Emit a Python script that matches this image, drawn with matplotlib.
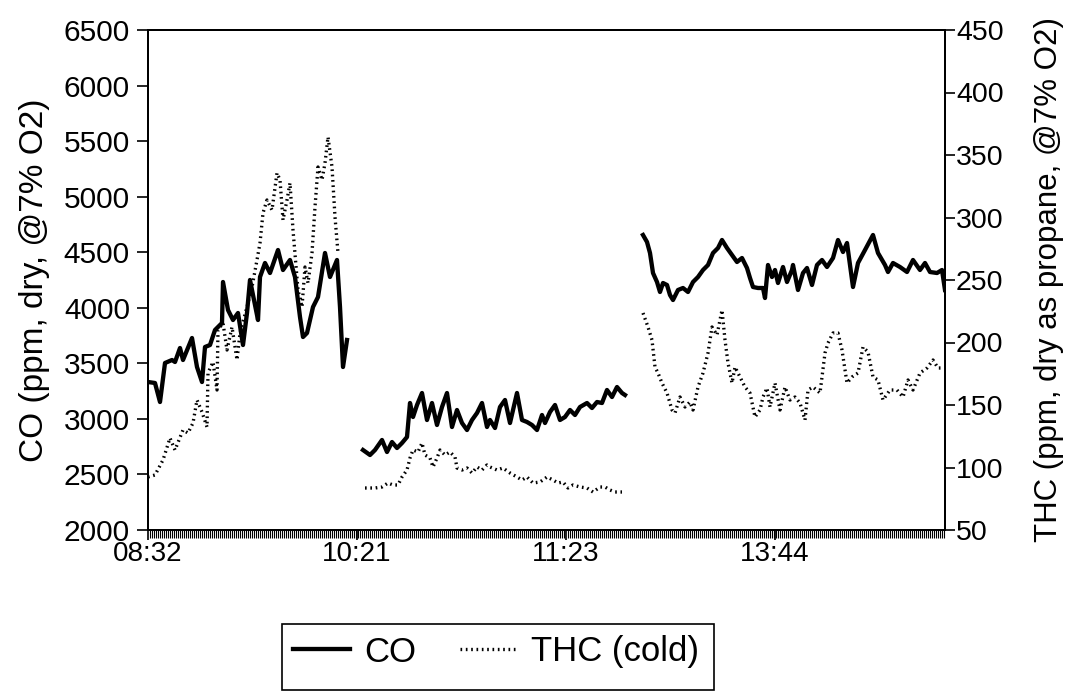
import matplotlib
matplotlib.use("Agg")
import matplotlib.pyplot as plt
from matplotlib.patches import Rectangle
from matplotlib.lines import Line2D
from matplotlib.ticker import MultipleLocator

plt.rcParams['font.family'] = ['Liberation Sans', 'DejaVu Sans']

# x = sample index; tick labels every 209 samples
tick_pos = [0, 209, 418, 627]
tick_labels = ["08:32", "10:21", "11:23", "13:44"]

# ---- CO (left axis, ppm) ----
co1_x = [0, 7, 12, 17, 24, 27, 32, 35, 44, 49, 54, 57, 62, 67, 74, 75, 80, 85, 90, 95,
         99, 102, 107, 110, 112, 117, 122, 130, 135, 142, 147, 152, 155, 159, 165, 170,
         177, 182, 189, 192, 195, 199]
co1_y = [3332, 3323, 3152, 3503, 3530, 3512, 3638, 3530, 3728, 3467, 3332, 3647, 3665,
         3800, 3863, 4232, 3980, 3890, 3953, 3665, 3953, 4250, 4025, 3890, 4277, 4403,
         4313, 4520, 4340, 4430, 4277, 3917, 3737, 3773, 4007, 4097, 4493, 4277, 4430,
         4007, 3467, 3710]
co2_x = [215, 222, 227, 234, 239, 244, 249, 254, 259, 262, 265, 269, 274, 279, 284, 289,
         294, 299, 304, 309, 314, 319, 324, 329, 334, 339, 342, 347, 352, 357, 362, 369,
         374, 379, 384, 389, 394, 397, 402, 407, 412, 417, 422, 427, 432, 439, 444, 449,
         454, 459, 464, 469, 474, 477]
co2_y = [2720, 2675, 2720, 2810, 2702, 2792, 2738, 2783, 2837, 3143, 3017, 3125, 3233,
         2990, 3143, 2945, 3107, 3233, 2927, 3080, 2963, 2900, 2990, 3053, 3143, 2927,
         2990, 2918, 3107, 3170, 2963, 3233, 2990, 2972, 2945, 2900, 3035, 2963, 3062,
         3125, 2990, 3017, 3080, 3035, 3107, 3143, 3098, 3152, 3143, 3260, 3197, 3287,
         3233, 3215]
co3_x = [495, 499, 502, 505, 509, 512, 515, 519, 522, 525, 530, 535, 540, 545, 550, 555,
         560, 565, 570, 574, 579, 584, 589, 594, 599, 602, 605, 610, 615, 617, 620, 624,
         627, 630, 635, 639, 644, 645, 650, 655, 659, 664, 669, 674, 679, 685, 690, 695,
         699, 702, 705, 710, 717, 725, 730, 737, 740, 745, 752, 759, 765, 772, 777, 782,
         789, 794, 797]
co3_y = [4655, 4592, 4493, 4313, 4232, 4142, 4223, 4205, 4115, 4070, 4160, 4178, 4142,
         4232, 4277, 4340, 4385, 4493, 4538, 4610, 4538, 4475, 4412, 4448, 4358, 4268,
         4187, 4178, 4178, 4088, 4385, 4277, 4340, 4223, 4367, 4232, 4340, 4385, 4160,
         4313, 4358, 4205, 4385, 4430, 4367, 4448, 4610, 4502, 4583, 4385, 4187, 4403,
         4520, 4655, 4493, 4385, 4322, 4403, 4367, 4322, 4430, 4340, 4403, 4322, 4313,
         4340, 4160]

# ---- THC (right axis, ppm as propane) ----
thc1_x = [0, 7, 15, 22, 27, 35, 40, 45, 49, 54, 59, 60, 65, 69, 70, 75, 79, 84, 89, 92,
          99, 104, 109, 112, 115, 119, 124, 129, 132, 135, 139, 142, 145, 150, 154, 157,
          160, 164, 167, 170, 174, 177, 180, 184, 187, 190]
thc1_y = [92.4, 94, 106, 123.6, 114, 130, 127.6, 135.6, 154, 144.4, 132.4, 175.6, 184.4,
          162, 210, 215.6, 194, 212.4, 186, 207.6, 228.4, 244.4, 266, 279.6, 303.6, 314,
          306, 335.6, 330, 298, 314, 327.6, 290, 242, 228.4, 260.4, 247.6, 271.6, 308.4,
          340.4, 330, 343.6, 364.4, 340.4, 300.4, 271.6]
thc2_x = [217, 227, 234, 240, 245, 250, 254, 259, 262, 265, 270, 274, 277, 282, 285, 289,
          292, 297, 302, 307, 309, 314, 319, 324, 329, 334, 339, 342, 349, 355, 362, 369,
          374, 379, 385, 392, 399, 405, 410, 415, 420, 425, 432, 439, 445, 452, 457, 462,
          467, 474]
thc2_y = [83.6, 83.6, 84.4, 87.6, 86, 86, 92.4, 98, 107.6, 114, 112.4, 119.6, 110, 107.6,
          100.4, 107.6, 114, 110, 112.4, 108.4, 99.6, 98, 99.6, 95.6, 100.4, 98, 102,
          100.4, 98, 99.6, 95.6, 92.4, 90, 92.4, 87.6, 88.4, 92.4, 90, 87.6, 88.4, 83.6,
          86, 84.4, 83.6, 80.4, 84.4, 84.4, 82, 80.4, 80.4]
thc3_x = [495, 500, 504, 507, 510, 514, 519, 524, 527, 532, 537, 542, 545, 550, 555, 560,
          564, 569, 574, 577, 580, 584, 587, 592, 597, 602, 607, 612, 615, 619, 622, 627,
          632, 637, 642, 647, 652, 657, 660, 665, 672, 677, 680, 685, 690, 694, 699, 704,
          710, 715, 720, 725, 730, 735, 742, 749, 755, 760, 765, 772, 779, 785, 790, 795]
thc3_y = [223.6, 212.4, 202, 180.4, 175.6, 167.6, 159.6, 146, 143.6, 156.4, 148.4, 152.4,
          146, 164.4, 175.6, 191.6, 212.4, 206, 226, 202, 183.6, 167.6, 180.4, 172.4,
          164.4, 159.6, 140.4, 146, 156.4, 163.6, 148.4, 167.6, 146, 164.4, 154, 156.4,
          151.6, 138, 162, 164.4, 159.6, 191.6, 199.6, 207.6, 207.6, 194, 167.6, 172.4,
          175.6, 196.4, 192.4, 172.4, 170, 154, 162, 162, 156.4, 170, 162, 175.6, 179.6,
          186, 179.6, 179.6]

W, H = 1067, 692
fig = plt.figure(figsize=(W / 100, H / 100), dpi=100)
ax = fig.add_axes([148 / W, 1 - 530 / H, (945 - 148) / W, 500 / H])
ax2 = ax.twinx()

co_style = dict(color='black', lw=3.1, solid_joinstyle='round')
thc_style = dict(color='black', lw=2.4, linestyle=(0, (0.5, 1.1)))

for xs, ys in [(co1_x, co1_y), (co2_x, co2_y), (co3_x, co3_y)]:
    ax.plot(xs, ys, **co_style)
for xs, ys in [(thc1_x, thc1_y), (thc2_x, thc2_y), (thc3_x, thc3_y)]:
    ax2.plot(xs, ys, **thc_style)

ax.set_xlim(0, 797)
ax.set_ylim(2000, 6500)
ax2.set_ylim(50, 450)
ax.set_yticks(range(2000, 6501, 500))
ax2.set_yticks(range(50, 451, 50))
ax.set_xticks(tick_pos)
ax.set_xticklabels(tick_labels)
ax.xaxis.set_minor_locator(MultipleLocator(2))

ax.tick_params(axis='y', labelsize=21.5, direction='out', length=8, width=1.2, pad=5)
ax2.tick_params(axis='y', labelsize=20.5, direction='out', length=7, width=1.2, pad=1)
ax.tick_params(axis='x', which='major', labelsize=20, direction='out', length=7,
               width=1.2, pad=1)
ax.tick_params(axis='x', which='minor', direction='out', length=6, width=0.8)

for a in (ax, ax2):
    for s in a.spines.values():
        s.set_linewidth(1.4)

ax.set_ylabel("CO (ppm, dry, @7% O2)", fontsize=24, labelpad=10)
ax2.set_ylabel("THC (ppm, dry as propane, @7% O2)", fontsize=22.5, labelpad=22)

# legend box
fig.patches.append(Rectangle((282 / W, 1 - 690 / H), (714 - 282) / W, 66 / H,
                             transform=fig.transFigure, fill=False, edgecolor='black',
                             lw=1.2))
handles = [Line2D([], [], **co_style), Line2D([], [], **thc_style)]
fig.legend(handles, ["CO", "THC (cold)"], ncol=2, frameon=False, fontsize=25,
           loc='center left', bbox_to_anchor=(293 / W, 1 - 652 / H), borderpad=0,
           borderaxespad=0, handlelength=1.65, columnspacing=1.25, handletextpad=0.4)

fig.savefig("out.png", dpi=100)
